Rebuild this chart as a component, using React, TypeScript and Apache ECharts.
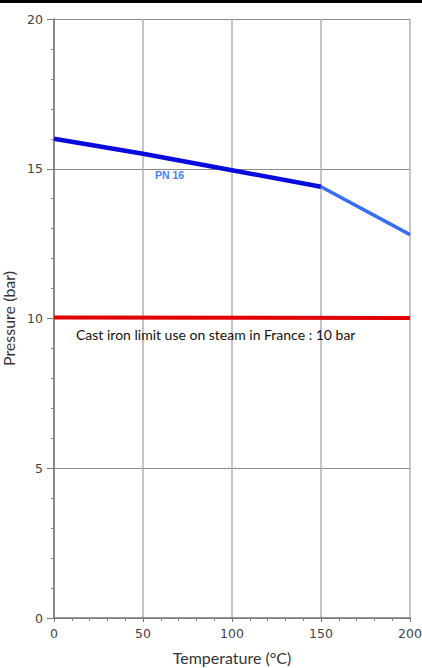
import React, { useEffect, useRef } from "react";
import * as echarts from "echarts";

const pn16Dark: [number, number][] = [
  [0, 16],
  [50, 15.5],
  [100, 14.95],
  [150, 14.4],
];
const pn16Light: [number, number][] = [
  [150, 14.4],
  [200, 12.8],
];
const steamLimit: [number, number][] = [
  [0, 10.03],
  [200, 10.02],
];
const xTicks = [0, 50, 100, 150, 200];
const yTicks = [0, 5, 10, 15, 20];
const limitText = "Cast iron limit use on steam in France : 10 bar";
const pnText = "PN 16";

export default function App() {
  const ref = useRef<HTMLDivElement>(null);
  useEffect(() => {
    if (!ref.current) return;
    const chart = echarts.init(ref.current, undefined, { renderer: "svg" });
    chart.setOption({
      animation: false,
      backgroundColor: "#ffffff",
      graphic: [
        { type: "rect", left: 0, top: 0, shape: { width: 422, height: 3 }, style: { fill: "#000" } },
      ],
      grid: { left: 54, right: 12, top: 19, bottom: 50, outerBoundsMode: "none", containLabel: false },
      xAxis: {
        type: "value",
        min: xTicks[0],
        max: xTicks[xTicks.length - 1],
        interval: 50,
        name: "Temperature (°C)",
        nameLocation: "middle",
        nameGap: 31,
        nameTextStyle: { fontFamily: "Lato", fontSize: 16, color: "#333" },
        axisLine: { show: true, lineStyle: { color: "#777", width: 1.5 } },
        axisTick: { show: true, length: 4, lineStyle: { color: "#777" } },
        minorTick: { show: true, splitNumber: 5, length: 3, lineStyle: { color: "#888" } },
        axisLabel: { fontFamily: "DejaVu Sans", fontSize: 12.5, color: "#444", margin: 9 },
        splitLine: { show: true, lineStyle: { color: "#b0b0b0", width: 1.5 } },
      },
      yAxis: {
        type: "value",
        min: yTicks[0],
        max: yTicks[yTicks.length - 1],
        interval: 5,
        name: "Pressure (bar)",
        nameLocation: "middle",
        nameGap: 32,
        nameTextStyle: { fontFamily: "Lato", fontSize: 16, color: "#333" },
        axisLine: { show: true, lineStyle: { color: "#777", width: 1.5 } },
        axisTick: { show: true, length: 7, lineStyle: { color: "#777" } },
        minorTick: { show: true, splitNumber: 5, length: 3, lineStyle: { color: "#888" } },
        axisLabel: { fontFamily: "DejaVu Sans", fontSize: 12.5, color: "#444", margin: 11 },
        splitLine: { show: true, lineStyle: { color: "#8a8a8a", width: 1 } },
      },
      series: [
        {
          type: "line",
          data: steamLimit.map((p, i) =>
            i === 0
              ? {
                  value: p,
                  label: {
                    show: true,
                    formatter: limitText,
                    position: "bottom",
                    align: "left",
                    offset: [22, 5],
                    fontFamily: "Lato",
                    fontSize: 14,
                    color: "#111",
                  },
                }
              : p
          ),
          showSymbol: true,
          symbol: "circle",
          symbolSize: 0,
          lineStyle: { color: "#e00000", width: 4 },
          itemStyle: { color: "#e00000" },
        },
        {
          type: "line",
          data: pn16Dark.map((p, i) =>
            i === 1
              ? {
                  value: p,
                  label: {
                    show: true,
                    formatter: pnText,
                    position: "bottom",
                    align: "left",
                    offset: [12, 11],
                    fontFamily: "Liberation Sans",
                    fontWeight: "bold",
                    fontSize: 10.5,
                    color: "#4a7ff0",
                  },
                }
              : p
          ),
          showSymbol: true,
          symbol: "circle",
          symbolSize: 0,
          lineStyle: { color: "#0a0adc", width: 4.5 },
          itemStyle: { color: "#0a0adc" },
        },
        {
          type: "line",
          data: pn16Light,
          symbol: "none",
          lineStyle: { color: "#3a6ef0", width: 3.5 },
        },
      ],
    });
    return () => chart.dispose();
  }, []);
  return <div ref={ref} style={{ position: "fixed", left: 0, top: 0, width: 422, height: 668 }} />;
}
